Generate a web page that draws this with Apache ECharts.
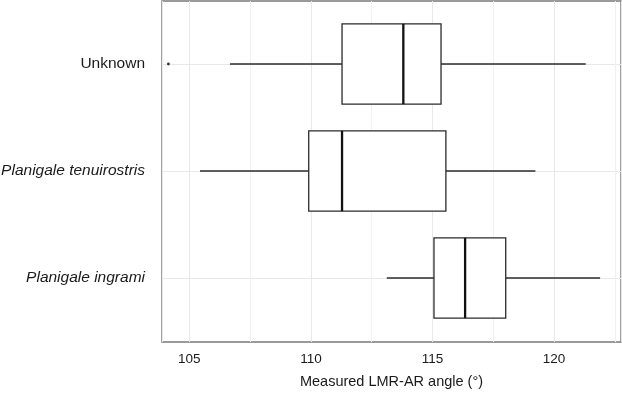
<!DOCTYPE html>
<html>
<head>
<meta charset="utf-8">
<script src="https://cdn.jsdelivr.net/npm/echarts@6/dist/echarts.min.js"></script>
<style>
  html, body { margin: 0; padding: 0; background: #fff; }
  #lmr-angle-chart { width: 622px; height: 395px; }
</style>
</head>
<body>
<div id="lmr-angle-chart"></div>
<script>
// categories, top to bottom
const categories = ['Unknown', 'Planigale tenuirostris', 'Planigale ingrami'];
const whiskerLow = [106.67, 105.44, 113.12];
const q1 = [111.28, 109.91, 115.06];
const median = [113.80, 111.28, 116.34];
const q3 = [115.35, 115.55, 118.01];
const whiskerHigh = [121.30, 119.23, 121.89];
const outliers = [[104.14, 'Unknown']];

const xMin = 103.877;
const xMax = 122.75;
const fontFamily = '"Liberation Sans", Arial, Helvetica, sans-serif';

const chart = echarts.init(document.getElementById('lmr-angle-chart'));

const boxData = categories.map((c, i) => [i, whiskerLow[i], q1[i], median[i], q3[i], whiskerHigh[i]]);

function renderBox(params, api) {
  const cat = api.value(0);
  const x = k => api.coord([api.value(k), cat])[0];
  const y = api.coord([api.value(3), cat])[1];
  const h = api.size([0, 1])[1] * 0.75;
  const edge = { stroke: '#2b2b2b', lineWidth: 1.3 };
  return {
    type: 'group',
    children: [
      { type: 'line', shape: { x1: x(1), y1: y, x2: x(2), y2: y }, style: edge },
      { type: 'line', shape: { x1: x(4), y1: y, x2: x(5), y2: y }, style: edge },
      { type: 'rect', shape: { x: x(2), y: y - h / 2, width: x(4) - x(2), height: h },
        style: { fill: '#ffffff', stroke: '#2b2b2b', lineWidth: 1.3 } },
      { type: 'line', shape: { x1: x(3), y1: y - h / 2, x2: x(3), y2: y + h / 2 },
        style: { stroke: '#111111', lineWidth: 2.3 } }
    ]
  };
}

const option = {
  animation: false,
  backgroundColor: '#ffffff',
  textStyle: { fontFamily: fontFamily },
  grid: [
    // data grid: category centres sit on its top/bottom edges
    { left: 162, right: 1, top: 64, bottom: 117, outerBoundsMode: 'none', containLabel: false },
    // panel frame
    { left: 162, right: 1, top: 1, bottom: 53, outerBoundsMode: 'none', containLabel: false,
      show: true, borderColor: '#7a7a7a', borderWidth: 1.4, backgroundColor: 'transparent' }
  ],
  xAxis: [
    { gridIndex: 0, type: 'value', min: xMin, max: xMax, show: false },
    {
      gridIndex: 1, type: 'value', min: xMin, max: xMax, splitNumber: 4,
      name: 'Measured LMR-AR angle (°)',
      nameLocation: 'middle',
      nameGap: 32,
      nameTextStyle: { fontSize: 14.5, color: '#1a1a1a', fontFamily: fontFamily },
      axisLine: { show: false },
      axisTick: { show: false },
      axisLabel: {
        margin: 10, fontSize: 13.5, color: '#1a1a1a', fontFamily: fontFamily,
        showMinLabel: false, showMaxLabel: false
      },
      splitLine: { show: true, lineStyle: { color: '#e8e8e8', width: 1 } },
      minorTick: { show: false, splitNumber: 2 },
      minorSplitLine: { show: true, lineStyle: { color: '#f1f1f1', width: 1 } }
    }
  ],
  yAxis: [
    {
      gridIndex: 0, type: 'category', data: categories, inverse: true, boundaryGap: false,
      axisLine: { show: false },
      axisTick: { show: false },
      axisLabel: {
        margin: 17,
        formatter: v => v === 'Unknown' ? '{n|' + v + '}' : '{i|' + v + '}',
        rich: {
          n: { fontSize: 15.5, color: '#1a1a1a', fontFamily: fontFamily },
          i: { fontSize: 15.5, color: '#1a1a1a', fontFamily: fontFamily, fontStyle: 'italic' }
        }
      },
      splitLine: { show: true, lineStyle: { color: '#e8e8e8', width: 1 } }
    },
    { gridIndex: 1, type: 'value', min: 0, max: 1, show: false }
  ],
  series: [
    {
      type: 'custom',
      xAxisIndex: 0, yAxisIndex: 0,
      renderItem: renderBox,
      encode: { x: [1, 2, 3, 4, 5], y: 0 },
      data: boxData,
      z: 3
    },
    {
      type: 'scatter',
      xAxisIndex: 0, yAxisIndex: 0,
      symbol: 'circle',
      symbolSize: 2.8,
      itemStyle: { color: '#000000' },
      data: outliers,
      z: 4
    }
  ]
};

chart.setOption(option);
</script>
</body>
</html>
